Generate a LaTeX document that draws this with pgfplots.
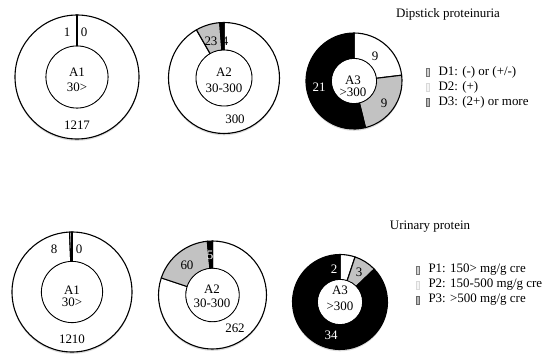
\documentclass[border=0pt]{standalone}
\usepackage{pgfplots}
\usepackage{pgfplotstable}
\pgfplotsset{compat=1.18}
\usepackage{fontspec}
\setmainfont{Liberation Serif}

\definecolor{segA}{gray}{1}
\definecolor{segB}{gray}{0.76}
\definecolor{segC}{gray}{0}

% counts per albuminuria group (A1, A2, A3)
\pgfplotstableread{
grp low mid high
A1 1217 1 0
A2 300 23 4
A3 9 9 21
}\dipstick
\pgfplotstableread{
grp low mid high
A1 1210 8 0
A2 262 60 5
A3 2 3 34
}\urinary

\newcommand\lbl{\fontsize{13}{15}\selectfont}

% one ring segment: cx, cy, outer r, inner r, from angle, to angle, fill
\newcommand\ringseg[7]{%
  \filldraw[fill=#7, draw=black, line width=1.1bp, line join=round]
    (axis cs:#1,#2) ++(#5:#3bp)
    arc[start angle=#5, end angle=#6, radius=#3bp]
    -- ++({#6+180}:\ringw bp)
    arc[start angle=#6, end angle=#5, radius=#4bp] -- cycle;
}

% donut for one table row: table, row, cx, cy, outer r, inner r
\newcommand\donut[6]{%
  \pgfplotstablegetelem{#2}{low}\of#1\let\va\pgfplotsretval
  \pgfplotstablegetelem{#2}{mid}\of#1\let\vb\pgfplotsretval
  \pgfplotstablegetelem{#2}{high}\of#1\let\vc\pgfplotsretval
  \pgfmathsetmacro\tot{\va+\vb+\vc}
  \pgfmathsetmacro\fa{\va/\tot}
  \pgfmathsetmacro\fb{(\va+\vb)/\tot}
  \pgfmathsetmacro\angB{90-360*\fa}
  \pgfmathsetmacro\angC{90-360*\fb}
  \pgfmathsetmacro\ringw{#5-#6}
  \fill[black!14] (axis cs:#3,#4-1.8) circle[radius=#5bp];
  \ringseg{#3}{#4}{#5}{#6}{90}{\angB}{segA}
  \ringseg{#3}{#4}{#5}{#6}{\angB}{\angC}{segB}
  \ringseg{#3}{#4}{#5}{#6}{\angC}{-270}{segC}
  \fill[white] (axis cs:#3,#4) circle[radius=#6bp-0.55bp];
}

% legend key
\newcommand\key[4]{% x, y, fill, draw
  \filldraw[fill=#3, draw=#4, line width=0.5bp]
    (axis cs:#1-1.3,#2-4) rectangle (axis cs:#1+1.3,#2+4);
}

\begin{document}
\begin{tikzpicture}
\useasboundingbox (0,0) rectangle (545bp,355bp);
\begin{axis}[
  at={(0,0)}, anchor=origin,
  x=1bp, y=1bp,
  xmin=0, xmax=545, ymin=0, ymax=355,
  hide axis, clip=false,
]
\pgfplotsextra{%
  \donut{\dipstick}{0}{77}{278}{62}{31}
  \donut{\dipstick}{1}{224}{277}{55.5}{28}
  \donut{\dipstick}{2}{354}{274}{48}{22.5}
  \donut{\urinary}{0}{72}{63}{60}{30.5}
  \donut{\urinary}{1}{212.5}{60}{54}{26.7}
  \donut{\urinary}{2}{340}{53}{47.5}{22.5}
  \key{428}{283}{black!18}{black!55}
  \key{428}{268}{black!4}{black!15}
  \key{428}{253}{black!28}{black!60}
  \key{418}{85}{black!18}{black!55}
  \key{418}{70}{black!4}{black!15}
  \key{418}{55}{black!28}{black!60}
}
% dipstick row
\node[font=\lbl] at (axis cs:67,323) {1};
\node[font=\lbl] at (axis cs:84,323) {0};
\node[font=\lbl] at (axis cs:77,283) {A1};
\node[font=\lbl] at (axis cs:77,268) {30>};
\node[font=\lbl] at (axis cs:77,230) {1217};
\node[font=\lbl] at (axis cs:211,314) {23};
\node[font=\lbl] at (axis cs:225,314) {4};
\node[font=\lbl] at (axis cs:224,283) {A2};
\node[font=\lbl] at (axis cs:224,267) {30-300};
\node[font=\lbl] at (axis cs:235,236) {300};
\node[font=\lbl] at (axis cs:375,299) {9};
\node[font=\lbl] at (axis cs:384,252) {9};
\node[font=\lbl, text=white] at (axis cs:319,268) {21};
\node[font=\lbl] at (axis cs:353,275) {A3};
\node[font=\lbl] at (axis cs:353,263) {>300};
\node[font=\lbl] at (axis cs:448,341) {Dipstick proteinuria};
\node[font=\lbl, anchor=west] at (axis cs:435,283) {D1: (-) or (+/-)};
\node[font=\lbl, anchor=west] at (axis cs:435,268) {D2: (+)};
\node[font=\lbl, anchor=west] at (axis cs:435,253) {D3: (2+) or more};
% urinary protein row
\node[font=\lbl] at (axis cs:54,106) {8};
\node[font=\lbl] at (axis cs:79,106) {0};
\node[font=\lbl] at (axis cs:72,65) {A1};
\node[font=\lbl] at (axis cs:72,53) {30>};
\node[font=\lbl] at (axis cs:72,16) {1210};
\node[font=\lbl] at (axis cs:187,90) {60};
\node[font=\lbl, text=white] at (axis cs:210,100) {5};
\node[font=\lbl] at (axis cs:212,66) {A2};
\node[font=\lbl] at (axis cs:212,52) {30-300};
\node[font=\lbl] at (axis cs:235,27) {262};
\node[font=\lbl, text=white] at (axis cs:334,86) {2};
\node[font=\lbl] at (axis cs:359,83) {3};
\node[font=\lbl] at (axis cs:340,65) {A3};
\node[font=\lbl] at (axis cs:340,49) {>300};
\node[font=\lbl, text=white] at (axis cs:331,20) {34};
\node[font=\lbl] at (axis cs:430,128) {Urinary protein};
\node[font=\lbl, anchor=west] at (axis cs:425,85) {P1: 150> mg/g cre};
\node[font=\lbl, anchor=west] at (axis cs:425,70) {P2: 150-500 mg/g cre};
\node[font=\lbl, anchor=west] at (axis cs:425,55) {P3: >500 mg/g cre};
\end{axis}
\end{tikzpicture}
\end{document}
